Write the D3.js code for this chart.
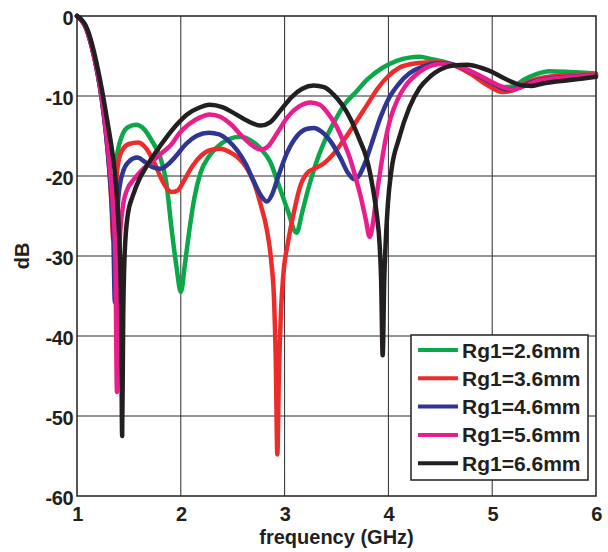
<!DOCTYPE html>
<html>
<head>
<meta charset="utf-8">
<script src="https://cdn.jsdelivr.net/npm/d3@7/dist/d3.min.js"></script>
<style>
  html, body { margin: 0; padding: 0; background: #fff; }
  svg { display: block; }
  text { font-family: "Liberation Sans", Arial, Helvetica, sans-serif; font-weight: bold; fill: #231f20; }
</style>
</head>
<body>
<svg id="chart" width="608" height="552"></svg>
<script>
// Return loss (dB) versus frequency (GHz) for five ground radii Rg1.
const xTicks = [1, 2, 3, 4, 5, 6];
const yTicks = [0, -10, -20, -30, -40, -50, -60];
const seriesNames = ["Rg1=2.6mm", "Rg1=3.6mm", "Rg1=4.6mm", "Rg1=5.6mm", "Rg1=6.6mm"];
const seriesColors = ["#0ba84a", "#ee2b2b", "#2e3592", "#e91e8c", "#231f20"];

const rg26 = [
  [1.0, 0], [1.04, -0.5], [1.08, -1.3], [1.12, -2.8], [1.16, -4.8], [1.2, -7.3], [1.24, -10.5],
  [1.28, -14.6], [1.31, -18.6], [1.33, -21.8], [1.345, -24.5], [1.36, -21], [1.38, -18],
  [1.43, -15.1], [1.49, -13.9], [1.57, -13.6], [1.65, -14.2], [1.73, -15.8], [1.8, -17.6],
  [1.86, -20.8], [1.91, -26.5], [1.96, -31.5], [2.0, -34.5], [2.04, -31], [2.08, -27],
  [2.13, -22.8], [2.19, -19.6], [2.27, -17.6], [2.35, -16.4], [2.46, -15.4], [2.57, -15.1],
  [2.68, -15.6], [2.77, -16.6], [2.86, -18.2], [2.94, -21], [3.03, -24.3], [3.115, -27.1],
  [3.17, -24.5], [3.23, -21.5], [3.3, -18.5], [3.38, -15.8], [3.48, -13.2], [3.58, -11],
  [3.68, -9.6], [3.8, -7.9], [3.94, -6.5], [4.08, -5.6], [4.2, -5.2], [4.3, -5.1],
  [4.42, -5.4], [4.58, -5.9], [4.78, -7], [4.95, -8.2], [5.1, -8.9], [5.2, -8.8],
  [5.3, -8], [5.42, -7.3], [5.55, -6.9], [5.75, -7], [6.0, -7.2]
];

const rg36 = [
  [1.0, 0], [1.04, -0.5], [1.08, -1.3], [1.12, -2.8], [1.16, -4.8], [1.2, -7.3], [1.24, -10.5],
  [1.28, -14.8], [1.31, -19], [1.33, -23], [1.35, -28], [1.365, -24], [1.39, -19],
  [1.43, -16.9], [1.5, -16], [1.59, -15.8], [1.67, -16.6], [1.75, -18.5], [1.83, -20.8],
  [1.91, -22], [1.97, -21.8], [2.03, -20.6], [2.11, -18.8], [2.2, -17.4], [2.3, -16.7],
  [2.38, -16.6], [2.47, -17], [2.56, -17.8], [2.64, -19.1], [2.71, -21], [2.77, -23.6],
  [2.83, -26.8], [2.87, -30.5], [2.9, -36], [2.915, -43], [2.93, -54.8], [2.945, -45],
  [2.965, -37], [2.99, -32], [3.03, -28.5], [3.09, -24.5], [3.15, -21.3], [3.22, -19.6],
  [3.3, -19], [3.38, -18.4], [3.46, -17.4], [3.56, -15.7], [3.67, -13.6], [3.79, -11.2],
  [3.9, -9], [4.0, -7.5], [4.1, -6.5], [4.22, -6], [4.36, -5.8], [4.5, -5.8], [4.62, -6.1],
  [4.8, -7.3], [4.95, -8.6], [5.1, -9.5], [5.2, -9.3], [5.3, -8.5], [5.45, -7.8],
  [5.7, -7.4], [6.0, -7.3]
];

const rg46 = [
  [1.0, 0], [1.04, -0.5], [1.08, -1.3], [1.12, -2.8], [1.16, -4.8], [1.2, -7.3], [1.24, -10.5],
  [1.28, -14.8], [1.31, -19], [1.33, -22.5], [1.35, -27.5], [1.365, -35.8], [1.38, -28],
  [1.4, -22.5], [1.44, -19.6], [1.5, -18.2], [1.58, -17.7], [1.66, -18.3], [1.73, -18.9],
  [1.8, -19.1], [1.88, -18.5], [1.96, -17.4], [2.05, -16], [2.15, -15], [2.27, -14.6],
  [2.37, -14.8], [2.46, -15.6], [2.55, -16.9], [2.63, -18.6], [2.7, -20.6], [2.77, -22.4],
  [2.83, -23.2], [2.88, -22.3], [2.94, -20], [3.02, -17.2], [3.12, -15], [3.22, -14.1],
  [3.28, -14], [3.36, -14.5], [3.45, -15.8], [3.54, -17.8], [3.61, -19.6], [3.67, -20.4],
  [3.72, -19.9], [3.78, -18.2], [3.85, -15.5], [3.92, -12.8], [4.0, -10.4], [4.1, -8.5],
  [4.2, -7.2], [4.32, -6.4], [4.46, -5.9], [4.6, -6], [4.8, -7], [5.0, -8.4],
  [5.15, -9.2], [5.25, -9], [5.35, -8.4], [5.5, -7.9], [5.75, -7.6], [6.0, -7.4]
];

const rg56 = [
  [1.0, 0], [1.04, -0.5], [1.08, -1.3], [1.12, -2.7], [1.16, -4.7], [1.2, -7.1], [1.24, -10.2],
  [1.28, -14.3], [1.32, -19.5], [1.35, -24.5], [1.37, -30], [1.385, -47], [1.395, -36],
  [1.41, -28.5], [1.44, -24], [1.48, -21.8], [1.55, -20.4], [1.63, -19.2], [1.73, -18.1],
  [1.82, -17.1], [1.9, -16.2], [1.99, -14.6], [2.08, -13.5], [2.18, -12.7], [2.28, -12.3],
  [2.38, -12.6], [2.48, -13.5], [2.58, -14.9], [2.68, -16.1], [2.77, -16.7], [2.84, -16.3],
  [2.93, -14.6], [3.03, -12.6], [3.14, -11.3], [3.25, -10.8], [3.34, -11.1], [3.42, -12.2],
  [3.5, -13.8], [3.57, -15.8], [3.63, -17.8], [3.68, -20], [3.73, -22.4], [3.78, -25.3],
  [3.82, -27.6], [3.85, -26], [3.88, -23], [3.92, -19.5], [3.97, -15.6], [4.02, -12.8],
  [4.09, -10.4], [4.16, -8.8], [4.26, -7.4], [4.36, -6.5], [4.5, -6], [4.7, -6.4],
  [4.9, -7.6], [5.05, -8.6], [5.2, -9.2], [5.3, -8.8], [5.45, -8.1], [5.7, -7.7], [6.0, -7.4]
];

const rg66 = [
  [1.0, 0], [1.04, -0.4], [1.08, -1.1], [1.12, -2.4], [1.16, -4.3], [1.2, -6.6], [1.24, -9.2],
  [1.28, -12.2], [1.32, -15.3], [1.36, -19], [1.39, -23.5], [1.41, -28.5], [1.425, -37],
  [1.435, -52.5], [1.445, -38], [1.46, -29.5], [1.49, -24.8], [1.54, -22.4], [1.6, -20.4],
  [1.67, -18.8], [1.76, -17], [1.86, -15.2], [1.96, -13.6], [2.06, -12.3], [2.17, -11.5],
  [2.28, -11.1], [2.4, -11.4], [2.52, -12.2], [2.64, -13.1], [2.77, -13.7], [2.86, -13.3],
  [2.96, -11.8], [3.07, -10.1], [3.17, -9.1], [3.28, -8.7], [3.38, -8.9], [3.47, -9.8],
  [3.56, -11.2], [3.64, -13], [3.72, -15.4], [3.79, -17.8], [3.85, -21.5], [3.89, -25],
  [3.915, -28.5], [3.93, -33], [3.945, -42.4], [3.96, -33], [3.975, -28], [3.995, -23.5],
  [4.03, -19.2], [4.1, -15.4], [4.2, -11.5], [4.3, -9], [4.4, -7.6], [4.5, -6.7],
  [4.62, -6.2], [4.76, -6.1], [4.9, -6.5], [5.0, -7], [5.1, -7.7], [5.2, -8.3],
  [5.3, -8.7], [5.38, -8.75], [5.5, -8.4], [5.75, -8], [6.0, -7.6]
];

const seriesData = [rg26, rg36, rg46, rg56, rg66];

const svg = d3.select("#chart");
const margin = { left: 77, top: 16, right: 12, bottom: 56 };
const W = 608, H = 552;

const x = d3.scaleLinear().domain([1, 6]).range([margin.left, W - margin.right]);
const y = d3.scaleLinear().domain([-60, 0]).range([H - margin.bottom, margin.top]);

// grid
const grid = svg.append("g");
grid.selectAll("line.vg").data(xTicks.slice(1, -1)).enter().append("line")
  .attr("x1", d => x(d)).attr("x2", d => x(d))
  .attr("y1", y(0)).attr("y2", y(-60))
  .attr("stroke", "#2b2b2b").attr("stroke-width", 1);
grid.selectAll("line.hg").data(yTicks.slice(1, -1)).enter().append("line")
  .attr("y1", d => y(d)).attr("y2", d => y(d))
  .attr("x1", x(1)).attr("x2", x(6))
  .attr("stroke", "#2b2b2b").attr("stroke-width", 1);

// axes (labels only; the frame is drawn separately), plain hyphen for negatives
const plain = d => String(d);
const xAxis = d3.axisBottom(x).tickValues(xTicks).tickSize(0).tickPadding(11).tickFormat(plain);
const yAxis = d3.axisLeft(y).tickValues(yTicks).tickSize(0).tickPadding(4).tickFormat(plain);

const gx = svg.append("g").attr("transform", `translate(0,${y(-60)})`).call(xAxis);
const gy = svg.append("g").attr("transform", `translate(${x(1)},0)`).call(yAxis);
[gx, gy].forEach(g => {
  g.select(".domain").remove();
  g.selectAll("text")
    .style("font-family", "'Liberation Sans', Arial, sans-serif")
    .style("font-weight", "bold")
    .style("font-size", "20px")
    .style("letter-spacing", "-0.5px")
    .attr("fill", "#231f20");
});
gy.selectAll("text").attr("dy", "0.4em");

// curves
const line = d3.line()
  .x(d => x(d[0]))
  .y(d => y(d[1]))
  .curve(d3.curveMonotoneX);

svg.append("g").selectAll("path").data(seriesData).enter().append("path")
  .attr("d", line)
  .attr("fill", "none")
  .attr("stroke", (d, i) => seriesColors[i])
  .attr("stroke-width", 4.5)
  .attr("stroke-linejoin", "round")
  .attr("stroke-linecap", "round");

// frame
svg.append("rect")
  .attr("x", x(1)).attr("y", y(0))
  .attr("width", x(6) - x(1)).attr("height", y(-60) - y(0))
  .attr("fill", "none").attr("stroke", "#231f20").attr("stroke-width", 1.5);

// axis titles
svg.append("text")
  .attr("x", (x(1) + x(6)) / 2).attr("y", 544)
  .attr("text-anchor", "middle")
  .style("font-size", "20px")
  .text("frequency (GHz)");

svg.append("text")
  .attr("transform", `translate(29,${(y(0) + y(-60)) / 2}) rotate(-90)`)
  .attr("text-anchor", "middle")
  .style("font-size", "20px")
  .text("dB");

// legend
const lg = svg.append("g");
lg.append("rect")
  .attr("x", 411).attr("y", 335).attr("width", 177).attr("height", 145)
  .attr("fill", "#fff").attr("stroke", "#231f20").attr("stroke-width", 1.5);
seriesNames.forEach((name, i) => {
  const cy = 350 + i * 28.3;
  lg.append("line")
    .attr("x1", 418).attr("x2", 458).attr("y1", cy).attr("y2", cy)
    .attr("stroke", seriesColors[i]).attr("stroke-width", 4);
  lg.append("text")
    .attr("x", 462).attr("y", cy).attr("dy", "0.36em")
    .style("font-size", "21px")
    .text(name);
});
</script>
</body>
</html>
